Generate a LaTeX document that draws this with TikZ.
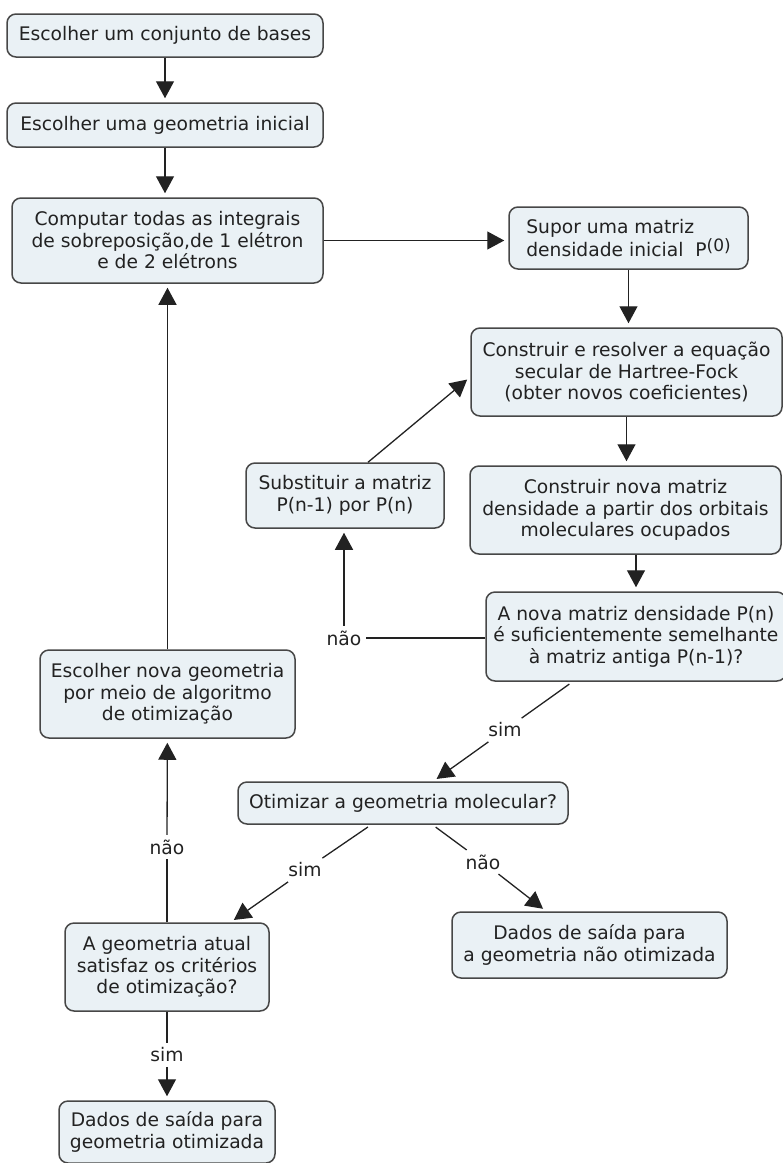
\documentclass[tikz,border=0pt]{standalone}
\usepackage{fontspec}
\setmainfont{DejaVu Sans}
\usetikzlibrary{arrows.meta}
\definecolor{boxfill}{HTML}{EAF1F5}
\definecolor{boxline}{HTML}{474747}
\definecolor{ink}{HTML}{222222}
\def\mybasefont{\fontsize{18.7}{21.5}\selectfont}
\tikzset{
>={Triangle[length=17pt,width=18pt]}, % big filled tips
my node/.style={align=center,font=\mybasefont,text=ink,inner sep=2pt},
my box/.style={my node,draw=boxline,fill=boxfill,rounded corners=9pt,line width=1.5pt},
my label/.style={my node,inner sep=4pt},
flow/.style={
  x=1pt,y=-1pt,
  line width=1.3pt,
  color=ink,
  gap/.style={shorten <=4pt},
  tip/.style={->,shorten >=4pt}
}
}
\begin{document}
\begin{tikzpicture}[flow]
\useasboundingbox (0,0) rectangle (783,1163);
% main column
\node[my box,minimum width=316pt,minimum height=43pt] (bases) at (165,35.5) {Escolher um conjunto de bases};
\node[my box,minimum width=316pt,minimum height=44pt] (geoinit) at (165,125) {Escolher uma geometria inicial};
\node[my box,minimum width=311pt,minimum height=85pt] (integrais) at (167.5,240.5)
  {Computar todas as integrais\\de sobreposição,de 1 elétron\\e de 2 elétrons};
\node[my box,align=left,minimum width=239pt,minimum height=62pt] (pzero) at (628.5,238)
  {Supor uma matriz\\densidade inicial\ \ P{\fontsize{17}{17}\selectfont\raisebox{0.55ex}{(0)}}};
\node[my box,minimum width=311pt,minimum height=88pt] (hf) at (626.5,372)
  {Construir e resolver a equação\\secular de Hartree-Fock\\(obter novos coeficientes)};
\node[my box,minimum width=311pt,minimum height=88pt] (novap) at (625.5,510)
  {Construir nova matriz\\densidade a partir dos orbitais\\moleculares ocupados};
\node[my box,minimum width=300pt,minimum height=89pt] (conv) at (636,636.5)
  {A nova matriz densidade P(n)\\é suficientemente semelhante\\à matriz antiga P(n-1)?};
\node[my box,minimum width=198pt,minimum height=65pt] (subst) at (345,495.5)
  {Substituir a matriz\\P(n-1) por P(n)};
\node[my box,minimum width=255pt,minimum height=88pt] (novageo) at (167.5,694)
  {Escolher nova geometria\\por meio de algoritmo\\de otimização};
\node[my box,minimum width=330pt,minimum height=42pt] (otim) at (403,803)
  {Otimizar a geometria molecular?};
\node[my box,minimum width=204pt,minimum height=88pt] (geoatual) at (167,967)
  {A geometria atual\\satisfaz os critérios\\de otimização?};
\node[my box,minimum width=275pt,minimum height=66pt] (saidanao) at (589.5,945)
  {Dados de saída para\\a geometria não otimizada};
\node[my box,minimum width=216pt,minimum height=62pt] (saidaotim) at (167,1132)
  {Dados de saída para\\geometria otimizada};
% link labels
\node[my label] (nao1) at (344,638) {não};
\node[my label] (sim1) at (505,730) {sim};
\node[my label] (sim2) at (305,870) {sim};
\node[my label] (nao2) at (483,862) {não};
\node[my label] (nao3) at (167,847) {não};
\node[my label] (sim3) at (167,1055) {sim};
% links
\draw[tip] (bases) -- (bases |- geoinit.north);
\draw[tip] (geoinit) -- (geoinit |- integrais.north);
\draw[tip] (integrais) -- (integrais -| pzero.west);
\draw[tip] (pzero) -- (pzero |- hf.north);
\draw[tip] (hf) -- (hf |- novap.north);
\draw[tip] (conv |- novap.south) -- (conv.north);
\draw (nao1 -| conv.west) -- (nao1);
\draw[tip] (nao1) -- (nao1 |- subst.south);
\draw[tip] ([xshift=23pt]subst.north) -- ([yshift=-5pt]hf.west);
\draw[gap] (conv) -- (sim1);
\draw[tip] (sim1) -- (otim);
\draw[gap] (otim) -- (sim2);
\draw[tip] (sim2) -- (geoatual);
\draw[gap] (otim) -- (nao2);
\draw[tip] (nao2) -- (saidanao);
\draw (geoatual) -- (nao3);
\draw[tip] (nao3) -- (novageo);
\draw[tip] (novageo) -- (novageo |- integrais.south);
\draw (geoatual) -- (sim3);
\draw[tip] (sim3) -- (saidaotim);
\end{tikzpicture}
\end{document}
